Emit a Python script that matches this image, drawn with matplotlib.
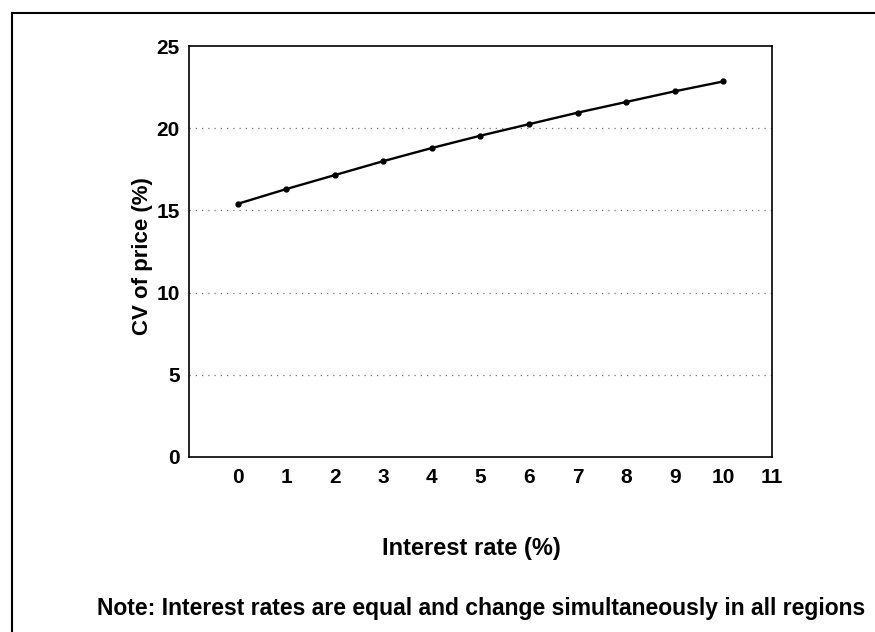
import matplotlib.pyplot as plt
from matplotlib.lines import Line2D

# --- data ---
interest_rate = [0, 1, 2, 3, 4, 5, 6, 7, 8, 9, 10]
cv_price = [15.4, 16.3, 17.15, 18.0, 18.8, 19.55, 20.25, 20.95, 21.6, 22.25, 22.85]
x_ticks = list(range(0, 12))
y_ticks = [0, 5, 10, 15, 20, 25]
note = "Note: Interest rates are equal and change simultaneously in all regions"

plt.rcParams["font.family"] = ["Liberation Sans", "DejaVu Sans"]
plt.rcParams["font.weight"] = "bold"

fig = plt.figure(figsize=(8.75, 6.32), dpi=100)
ax = fig.add_axes([0.216, 0.277, 0.666, 0.650])

ax.plot(interest_rate, cv_price, color="black", linewidth=1.7,
        marker="o", markersize=3.5)

ax.set_xlim(-1, 11)
ax.set_ylim(0, 25)
ax.set_xticks(x_ticks)
ax.set_yticks(y_ticks)
ax.tick_params(axis="x", length=0, labelsize=15, pad=8)
ax.tick_params(axis="y", length=0, labelsize=15, pad=6.5)
for lbl in ax.get_xticklabels() + ax.get_yticklabels():
    lbl.set_fontweight("bold")

# dotted horizontal gridlines
for yv in [5, 10, 15, 20]:
    ax.axhline(yv, color="#777777", linestyle=(0, (1, 4)), linewidth=0.9, zorder=0)

for s in ax.spines.values():
    s.set_linewidth(1.2)

ax.set_xlabel("Interest rate (%)", fontsize=17, fontweight="bold", va="center")
ax.xaxis.set_label_coords(0.484, -0.224)
ax.set_ylabel("CV of price (%)", fontsize=16, fontweight="bold", va="center")
ax.yaxis.set_label_coords(-0.079, 0.489)

fig.text(0.55, 1 - 608 / 632, note, ha="center", va="center", fontsize=16.5, fontweight="bold")

# outer frame (top and left edges only visible)
fig.add_artist(Line2D([12 / 875, 1.0], [1 - 13 / 632, 1 - 13 / 632],
                      transform=fig.transFigure, color="black", linewidth=1.5))
fig.add_artist(Line2D([12 / 875, 12 / 875], [0.0, 1 - 13 / 632],
                      transform=fig.transFigure, color="black", linewidth=1.5))

plt.savefig("out.png", dpi=100)
